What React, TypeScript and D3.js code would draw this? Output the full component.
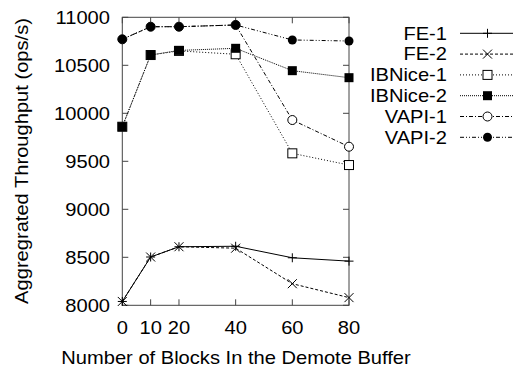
import React from "react";
import * as d3 from "d3";

// block counts on the x axis
const blocks = [0, 10, 20, 40, 60, 80];
const yTicks = [8000, 8500, 9000, 9500, 10000, 10500, 11000];

const seriesNames = ["FE-1", "FE-2", "IBNice-1", "IBNice-2", "VAPI-1", "VAPI-2"];
const fe1 = [8040, 8503, 8610, 8615, 8495, 8460];
const fe2 = [8040, 8503, 8610, 8595, 8225, 8080];
const ibnice1 = [9860, 10607, 10650, 10615, 9583, 9461];
const ibnice2 = [9860, 10607, 10655, 10677, 10444, 10371];
const vapi1 = [10771, 10902, 10902, 10920, 9930, 9652];
const vapi2 = [10771, 10902, 10902, 10920, 10764, 10753];

const W = 513;
const H = 368;
const FONT = "'Liberation Sans', Arial, Helvetica, sans-serif";
const FS = 17.5;
const SX = 1.15;

const dashes = ["", "3,2", "1,2", "1,1", "4,2,1,2", "4,2,1,2,1,2"];
const markers = ["plus", "cross", "square", "fsquare", "circle", "fcircle"];

const Marker = ({ kind, x, y }: { kind: string; x: number; y: number }) => {
  const r = 4.5;
  if (kind === "plus")
    return <path d={`M${x - r},${y}H${x + r}M${x},${y - r}V${y + r}`} stroke="#000" strokeWidth={1} />;
  if (kind === "cross")
    return (
      <path
        d={`M${x - r},${y - r}L${x + r},${y + r}M${x - r},${y + r}L${x + r},${y - r}`}
        stroke="#000"
        strokeWidth={1}
      />
    );
  if (kind === "square")
    return <rect x={x - r} y={y - r} width={2 * r} height={2 * r} fill="#fff" stroke="#000" strokeWidth={1} />;
  if (kind === "fsquare") return <rect x={x - r} y={y - r} width={2 * r} height={2 * r} fill="#000" />;
  if (kind === "circle") return <circle cx={x} cy={y} r={r} fill="#fff" stroke="#000" strokeWidth={1} />;
  return <circle cx={x} cy={y} r={r} fill="#000" />;
};

// horizontally stretched text, like the reference
const T = ({ x, y, anchor, rot, children }: any) => (
  <g transform={`translate(${x},${y})${rot ? ` rotate(${rot})` : ""} scale(${SX},1)`}>
    <text fontFamily={FONT} fontSize={FS} textAnchor={anchor} fill="#000">
      {children}
    </text>
  </g>
);

export default function App() {
  const data = [fe1, fe2, ibnice1, ibnice2, vapi1, vapi2];
  const x = d3.scaleLinear().domain([0, 80]).range([122.3, 349]);
  const y = d3.scaleLinear().domain([8000, 11000]).range([305.3, 17.3]);
  const line = d3
    .line<number>()
    .x((_, i) => x(blocks[i]))
    .y((d) => y(d));
  const [x0, x1] = x.range();
  const [y0, y1] = y.range();
  const tl = 6;

  return (
    <svg width={W} height={H} style={{ position: "absolute", left: 0, top: 0, background: "#fff" }}>
      {/* ticks */}
      {yTicks.map((t) => (
        <g key={"y" + t}>
          <path d={`M${x0},${y(t)}h${tl}M${x1},${y(t)}h${-tl}`} stroke="#444" />
          <T x={110} y={y(t) + 6.5} anchor="end">
            {t}
          </T>
        </g>
      ))}
      {blocks.map((b) => (
        <g key={"x" + b}>
          <path d={`M${x(b)},${y0}v${-tl}M${x(b)},${y1}v${tl}`} stroke="#444" />
          <T x={x(b)} y={334} anchor="middle">
            {b}
          </T>
        </g>
      ))}
      <rect x={x0} y={y1} width={x1 - x0} height={y0 - y1} fill="none" stroke="#444" strokeWidth={1} />

      {/* series */}
      {data.map((d, i) => (
        <g key={seriesNames[i]}>
          <path d={line(d) || ""} fill="none" stroke="#000" strokeWidth={1} strokeDasharray={dashes[i]} />
          {d.map((v, j) => (
            <Marker key={j} kind={markers[i]} x={x(blocks[j])} y={y(v)} />
          ))}
        </g>
      ))}

      {/* legend */}
      {seriesNames.map((n, i) => {
        const ly = 33.3 + i * 20.8;
        return (
          <g key={"l" + n}>
            <T x={447} y={ly + 6.3} anchor="end">
              {n}
            </T>
            <path d={`M460,${ly}H513`} stroke="#000" strokeWidth={1} strokeDasharray={dashes[i]} />
            <Marker kind={markers[i]} x={487.5} y={ly} />
          </g>
        );
      })}

      <T x={236} y={364} anchor="middle">
        Number of Blocks In the Demote Buffer
      </T>
      <T x={28} y={161} anchor="middle" rot={-90}>
        Aggregrated Throughput (ops/s)
      </T>
    </svg>
  );
}
